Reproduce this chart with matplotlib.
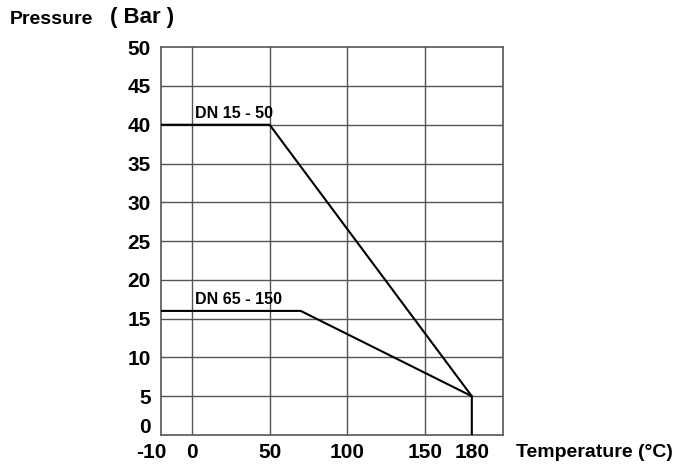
import numpy as np
import matplotlib
matplotlib.use("Agg")
import matplotlib.pyplot as plt
from matplotlib.transforms import ScaledTranslation

# pressure / temperature rating curves
temp_small = [-10, 50, 180, 180]
press_small = [40, 40, 5, 0]
temp_large = [-10, 70, 180]
press_large = [16, 16, 5]

x_ticks = [-10, 0, 50, 100, 150, 180]
x_grid = [0, 50, 100, 150]
y_ticks = list(range(0, 55, 5))

label_small = "DN 15 - 50"
label_large = "DN 65 - 150"

plt.rcParams["font.family"] = ["Liberation Sans", "DejaVu Sans"]


def fwd(x):
    x = np.asarray(x, dtype=float)
    return np.where(x < 0, 2 * x, x)


def inv(y):
    y = np.asarray(y, dtype=float)
    return np.where(y < 0, y / 2, y)


def main():
    fig = plt.figure(figsize=(6.79, 4.65), dpi=100)
    ax = fig.add_axes([0.2367, 0.0645, 0.504, 0.834])
    ax.set_xscale("function", functions=(fwd, inv))
    ax.set_xlim(-10, 200)
    ax.set_ylim(0, 50)

    grid_color = "#555555"
    for gx in x_grid:
        ax.axvline(gx, color=grid_color, lw=1.0, zorder=1)
    for gy in y_ticks[1:-1]:
        ax.axhline(gy, color=grid_color, lw=1.0, zorder=1)
    for s in ax.spines.values():
        s.set_color(grid_color)
        s.set_linewidth(1.2)

    ax.plot(temp_small, press_small, color="black", lw=1.5, zorder=3)
    ax.plot(temp_large, press_large, color="black", lw=1.5, zorder=3)

    ax.annotate(label_small, (temp_small[0], press_small[0]), xytext=(25, 2.5),
                textcoords="offset points", fontsize=11.5, fontweight="bold",
                va="bottom", ha="left")
    ax.annotate(label_large, (temp_large[0], press_large[0]), xytext=(25, 2.5),
                textcoords="offset points", fontsize=11.5, fontweight="bold",
                va="bottom", ha="left")

    ax.set_xticks(x_ticks)
    ax.set_xticklabels([str(t) for t in x_ticks])
    ax.set_yticks(y_ticks)
    ax.set_yticklabels([str(t) for t in y_ticks])
    ax.xaxis.set_minor_locator(matplotlib.ticker.NullLocator())
    ax.tick_params(axis="both", length=0, labelsize=15)
    ax.tick_params(axis="y", pad=7)
    ax.tick_params(axis="x", pad=6)
    for lab in ax.get_xticklabels() + ax.get_yticklabels():
        lab.set_fontweight("bold")
    # the -10 label sits a bit left of the axis corner in the original
    first = ax.get_xticklabels()[0]
    first.set_transform(first.get_transform() + ScaledTranslation(-0.09, 0, fig.dpi_scale_trans))
    # and the 0 pressure label is lifted above the bottom edge
    zero = ax.get_yticklabels()[0]
    zero.set_transform(zero.get_transform() + ScaledTranslation(0, 0.095, fig.dpi_scale_trans))

    fig.text(10 / 679, 1 - 19 / 465, "Pressure", fontsize=14, fontweight="bold",
             va="center", ha="left")
    fig.text(110 / 679, 1 - 18 / 465, "( Bar )", fontsize=16, fontweight="bold",
             va="center", ha="left")
    fig.text(516 / 679, 1 - 452 / 465, "Temperature (°C)", fontsize=14,
             fontweight="bold", va="center", ha="left")

    fig.savefig("out.png", dpi=100)


if __name__ == "__main__":
    main()
